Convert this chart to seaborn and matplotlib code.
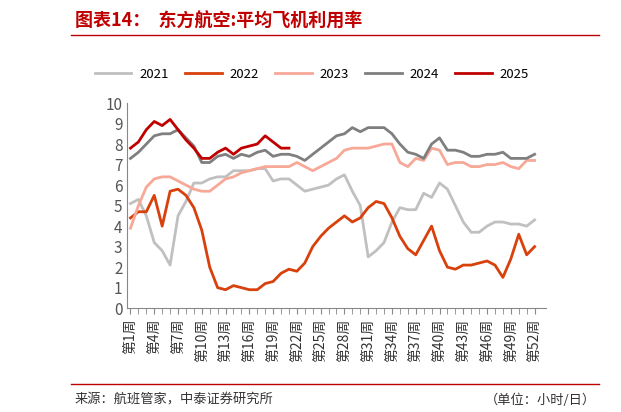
import matplotlib
matplotlib.use("Agg")
import matplotlib.pyplot as plt
import seaborn as sns
import pandas as pd

plt.rcParams["font.family"] = ["Noto Sans CJK SC", "DejaVu Sans"]

weeks = list(range(1, 53))
y2021 = [5.1, 5.3, 4.5, 3.2, 2.8, 2.1, 4.5, 5.2, 6.1, 6.1, 6.3, 6.4, 6.4, 6.7, 6.7, 6.7, 6.8, 6.8, 6.2, 6.3,
         6.3, 6.0, 5.7, 5.8, 5.9, 6.0, 6.3, 6.5, 5.7, 5.0, 2.5, 2.8, 3.2, 4.2, 4.9, 4.8, 4.8, 5.6, 5.4, 6.1,
         5.8, 5.0, 4.2, 3.7, 3.7, 4.0, 4.2, 4.2, 4.1, 4.1, 4.0, 4.3]
y2022 = [4.4, 4.7, 4.7, 5.5, 4.0, 5.7, 5.8, 5.5, 4.9, 3.8, 2.0, 1.0, 0.9, 1.1, 1.0, 0.9, 0.9, 1.2, 1.3, 1.7,
         1.9, 1.8, 2.2, 3.0, 3.5, 3.9, 4.2, 4.5, 4.2, 4.4, 4.9, 5.2, 5.1, 4.4, 3.5, 2.9, 2.6, 3.3, 4.0, 2.8,
         2.0, 1.9, 2.1, 2.1, 2.2, 2.3, 2.1, 1.5, 2.4, 3.6, 2.6, 3.0]
y2023 = [3.9, 5.0, 5.9, 6.3, 6.4, 6.4, 6.2, 6.0, 5.8, 5.7, 5.7, 6.0, 6.3, 6.4, 6.6, 6.7, 6.8, 6.9, 6.9, 6.9,
         6.9, 7.1, 6.9, 6.7, 6.9, 7.1, 7.3, 7.7, 7.8, 7.8, 7.8, 7.9, 8.0, 8.0, 7.1, 6.9, 7.3, 7.2, 7.8, 7.7,
         7.0, 7.1, 7.1, 6.9, 6.9, 7.0, 7.0, 7.1, 6.9, 6.8, 7.2, 7.2]
y2024 = [7.3, 7.6, 8.0, 8.4, 8.5, 8.5, 8.7, 8.3, 7.9, 7.1, 7.1, 7.4, 7.5, 7.3, 7.5, 7.4, 7.6, 7.7, 7.4, 7.5,
         7.5, 7.4, 7.2, 7.5, 7.8, 8.1, 8.4, 8.5, 8.8, 8.6, 8.8, 8.8, 8.8, 8.5, 8.0, 7.6, 7.5, 7.3, 8.0, 8.3,
         7.7, 7.7, 7.6, 7.4, 7.4, 7.5, 7.5, 7.6, 7.3, 7.3, 7.3, 7.5]
y2025 = [7.8, 8.1, 8.7, 9.1, 8.9, 9.2, 8.7, 8.2, 7.8, 7.3, 7.3, 7.6, 7.8, 7.5, 7.8, 7.9, 8.0, 8.4, 8.1, 7.8, 7.8]

series = {"2021": y2021, "2022": y2022, "2023": y2023, "2024": y2024, "2025": y2025}
colors = {"2021": "#c0c0c0", "2022": "#d8400c", "2023": "#f7a897", "2024": "#7f7f7f", "2025": "#c00000"}

rows = []
for k, v in series.items():
    for w, val in zip(weeks, v):
        rows.append({"week": w, "value": val, "year": k})
df = pd.DataFrame(rows)

fig = plt.figure(figsize=(6.21, 4.12), dpi=100)
ax = fig.add_axes([0.205, 0.252, 0.675, 0.498])
sns.lineplot(data=df, x="week", y="value", hue="year", palette=colors, linewidth=2, ax=ax)

ax.set_xlim(0.6, 53.5)
ax.set_ylim(0, 10)
ax.set_yticks(range(0, 11))
ax.set_xticks(weeks, minor=True)
ax.set_xticks(weeks[::3])
ax.set_xticklabels([f"第{w}周" for w in weeks[::3]], rotation=90)
ax.tick_params(axis="x", which="both", length=4, color="#888888", labelsize=10, labelcolor="#333333")
ax.tick_params(axis="y", length=0, labelsize=11, labelcolor="#555555")
ax.set_xlabel("")
ax.set_ylabel("")
for s in ["top", "right"]:
    ax.spines[s].set_visible(False)
for s in ["left", "bottom"]:
    ax.spines[s].set_color("#888888")

ax.legend(loc="center", bbox_to_anchor=(0.44, 1.14), ncol=5, frameon=False, fontsize=9.5,
          handlelength=2.8, columnspacing=1.2, handletextpad=0.6)

fig.text(0.12, 0.935, "图表14：  东方航空:平均飞机利用率", color="#c00000", fontsize=13,
         fontweight="bold", style="italic")
fig.add_artist(plt.Line2D([0.115, 0.965], [0.915, 0.915], color="#c00000", lw=1))
fig.add_artist(plt.Line2D([0.115, 0.965], [0.068, 0.068], color="#c00000", lw=1))
fig.text(0.12, 0.02, "来源：航班管家，中泰证券研究所", fontsize=9.5, color="#333333")
fig.text(0.96, 0.02, "（单位：小时/日）", fontsize=9.5, color="#333333", ha="right")

fig.savefig("out.png", dpi=100)
